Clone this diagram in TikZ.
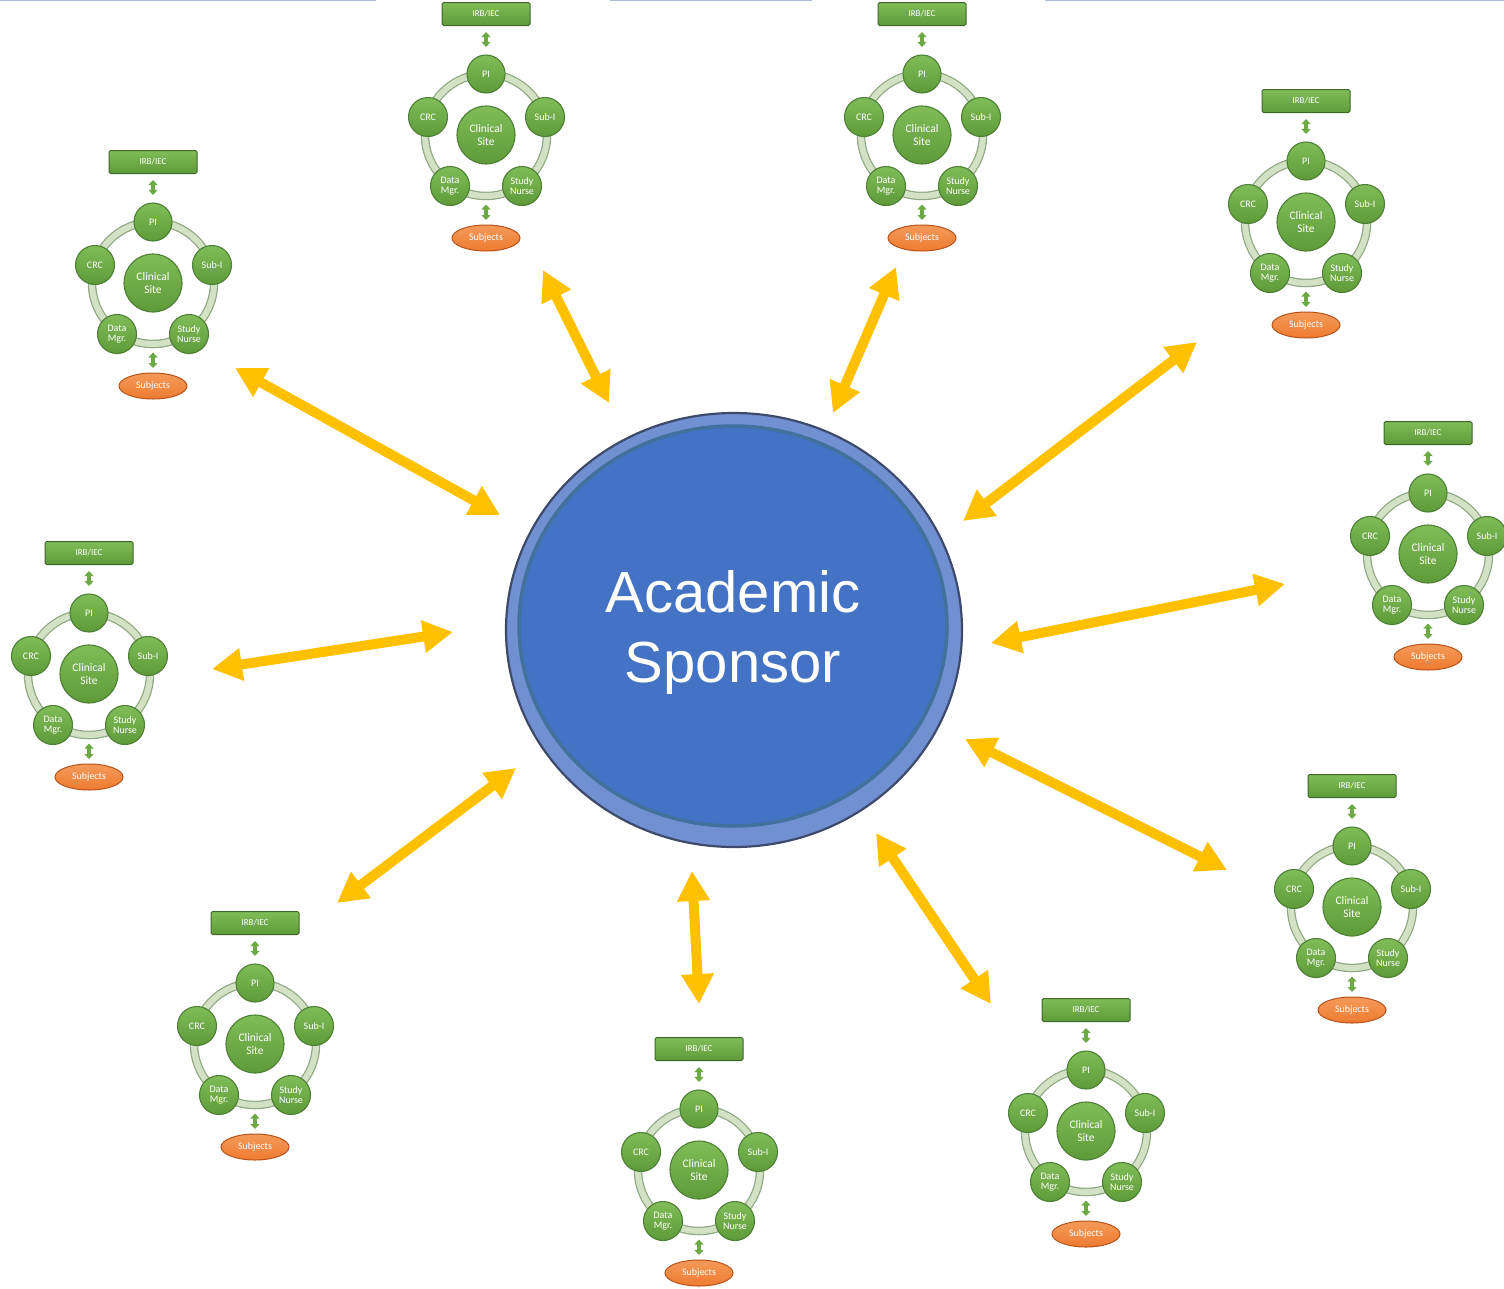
\documentclass[tikz,border=0pt]{standalone}
\usepackage{fontspec}
\newfontfamily\carlito{Carlito}
\newfontfamily\libsans{Liberation Sans}
\usetikzlibrary{arrows.meta,shapes.geometric}
\definecolor{gfill}{HTML}{6DAA45}
\definecolor{gtop}{HTML}{80BD58}
\definecolor{gbot}{HTML}{5E9A38}
\definecolor{gdark}{HTML}{4E7F36}
\definecolor{ringlight}{HTML}{D3E2C4}
\definecolor{ringdark}{HTML}{8FA882}
\definecolor{orfill}{HTML}{EE7B30}
\definecolor{ortop}{HTML}{F49A5A}
\definecolor{ordark}{HTML}{B8531A}
\definecolor{gold}{HTML}{FFC000}
\definecolor{sblue}{HTML}{4472C4}
\definecolor{sbord}{HTML}{41719C}
\definecolor{srim}{HTML}{7190D2}
\definecolor{sout}{HTML}{3D4A6A}
\definecolor{topline}{HTML}{A8BCD4}
\tikzset{
  gcirc/.style={circle, top color=gtop, bottom color=gbot, draw=gdark, line width=1.1pt,
    minimum size=39pt, inner sep=0pt, text=white, align=center,
    font=\carlito\fontsize{10}{10.5}\selectfont},
  irbbox/.style={rectangle, rounded corners=1.5pt, top color=gtop, bottom color=gbot,
    draw=gdark!80!black, line width=1pt, minimum width=88pt, minimum height=23pt,
    inner sep=0pt, text=white, font=\carlito\fontsize{9}{9}\selectfont},
  subj/.style={ellipse, top color=ortop, bottom color=orfill, draw=ordark, line width=1pt,
    minimum width=68pt, minimum height=26pt, inner sep=0pt, text=white,
    font=\carlito\fontsize{10}{10}\selectfont},
  smallarr/.style={draw=gfill, line width=3.4pt, {Triangle[width=9pt,length=5pt]}-{Triangle[width=9pt,length=5pt]}},
  bigarr/.style={draw=gold, line width=10pt, {Triangle[width=31pt,length=30pt]}-{Triangle[width=31pt,length=30pt]}},
  site/.pic={
    \node[irbbox] (-irb) at (0,0) {IRB/IEC};
    \draw[ringdark, line width=8.5pt] (0,121) circle[radius=61pt];
    \draw[ringlight, line width=6pt] (0,121) circle[radius=61pt];
    \node[gcirc, minimum size=58pt, font=\carlito\fontsize{11.5}{12.5}\selectfont] (-cs) at (0,121) {Clinical\\Site};
    \node[gcirc, minimum size=38pt] (-pi) at (0,60) {PI};
    \node[gcirc] (-crc) at (-58,103) {CRC};
    \node[gcirc] (-sub) at (59,103) {Sub-I};
    \node[gcirc] (-dm) at (-36,172) {Data\\Mgr.};
    \node[gcirc] (-sn) at (36,172) {Study\\Nurse};
    \node[subj] (-subj) at (0,224) {Subjects};
    \coordinate (-rb) at (0,186);
    \draw[smallarr, shorten <=6pt, shorten >=7.5pt] (-irb) -- (-pi);
    \draw[smallarr, shorten <=4.5pt, shorten >=4.5pt] (-rb) -- (-subj);
  }
}
\begin{document}
\begin{tikzpicture}[x=1pt, y=-1pt]
\useasboundingbox (0,0) rectangle (1504,1288);
% top lines
\draw[topline, line width=1.5pt] (0,0.5) -- (376,0.5);
\draw[topline, line width=1.5pt] (610,0.5) -- (812,0.5);
\draw[topline, line width=1.5pt] (1045,0.5) -- (1504,0.5);
% sponsor
\fill[srim, draw=sout, line width=2.2pt] (734,630) ellipse[x radius=228pt, y radius=217pt];
\fill[sblue, draw=sbord, line width=3.5pt] (733,626) ellipse[x radius=214pt, y radius=200pt];
\node[inner sep=0pt, text=white, align=center, font=\libsans\fontsize{58}{70}\selectfont] (sp) at (733,632) {Academic\\Sponsor};
% sites
\pic (s1) at (486,14) {site};
\pic (s2) at (922,14) {site};
\pic (s3) at (153,162) {site};
\pic (s4) at (1306,101) {site};
\pic (s5) at (1428,433) {site};
\pic (s6) at (89,553) {site};
\pic (s7) at (1352,786) {site};
\pic (s8) at (255,923) {site};
\pic (s9) at (699,1049) {site};
\pic (s10) at (1086,1010) {site};
% big arrows
\coordinate (a1a) at (543,270);  \coordinate (a1b) at (609,403);
\coordinate (a2a) at (896,267);  \coordinate (a2b) at (833,413);
\coordinate (a3a) at (235,368);  \coordinate (a3b) at (500,515);
\coordinate (a4a) at (1197,342); \coordinate (a4b) at (963,521);
\coordinate (a5a) at (1285,584); \coordinate (a5b) at (991,643);
\coordinate (a6a) at (453,632);  \coordinate (a6b) at (212,669);
\coordinate (a7a) at (965,739);  \coordinate (a7b) at (1227,870);
\coordinate (a8a) at (516,768);  \coordinate (a8b) at (337,903);
\coordinate (a9a) at (692,871);  \coordinate (a9b) at (699,1004);
\coordinate (a10a) at (876,833); \coordinate (a10b) at (991,1004);
\foreach \i in {1,...,10} { \draw[bigarr] (a\i a) -- (a\i b); }
\end{tikzpicture}
\end{document}
